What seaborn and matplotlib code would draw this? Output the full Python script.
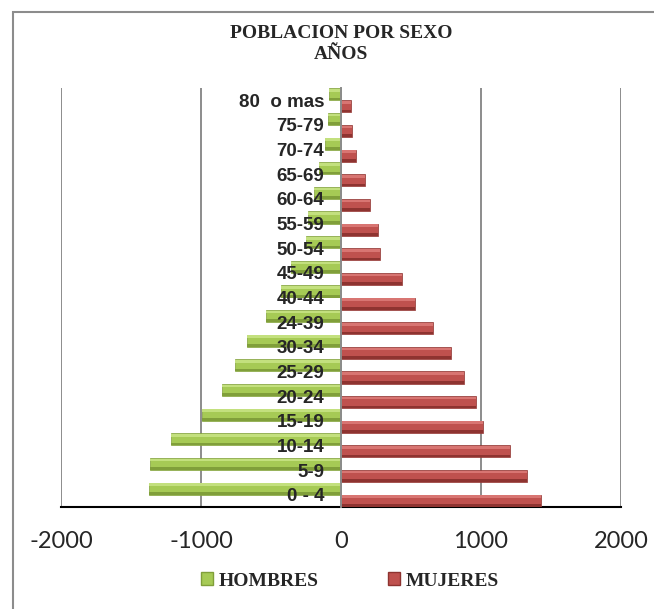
import pandas as pd
import matplotlib.pyplot as plt
import matplotlib.patches as mpatches
import seaborn as sns
from matplotlib.ticker import FixedLocator

sns.set_style("white")
plt.rcParams['font.family'] = ['Liberation Sans', 'DejaVu Sans']

# datos (de arriba hacia abajo)
grupos = ["80  o mas", "75-79", "70-74", "65-69", "60-64", "55-59", "50-54", "45-49",
          "40-44", "24-39", "30-34", "25-29", "20-24", "15-19", "10-14", "5-9", "0 - 4"]
hombres = [-85, -90, -115, -155, -195, -235, -250, -355, -430, -535, -670, -755,
           -850, -990, -1215, -1365, -1370]
mujeres = [70, 80, 110, 170, 205, 265, 275, 435, 525, 655, 785, 875,
           965, 1015, 1210, 1325, 1425]
series = ["HOMBRES", "MUJERES"]
xticks = [-2000, -1000, 0, 1000, 2000]

colores = {"HOMBRES": "#a6ca55", "MUJERES": "#bf514e"}
claros = {"HOMBRES": "#c3e07e", "MUJERES": "#d87572"}
oscuros = {"HOMBRES": "#809f3a", "MUJERES": "#8e3330"}

df = pd.DataFrame({
    "grupo": grupos * 2,
    "sexo": ["HOMBRES"] * len(grupos) + ["MUJERES"] * len(grupos),
    "valor": hombres + mujeres,
})

fig = plt.figure(figsize=(6.54, 6.09), dpi=100)
ax = fig.add_axes([61 / 654, 102 / 609, 560 / 654, 419 / 609])

sns.barplot(data=df, x="valor", y="grupo", hue="sexo", order=grupos,
            hue_order=series, palette=colores, orient="h", width=0.98,
            legend=False, saturation=1, ax=ax, zorder=3)

# efecto biselado: franja clara arriba, oscura abajo
n = len(grupos)
for i, p in enumerate(list(ax.patches)):
    s = series[i // n]
    x, y, w, h = p.get_x(), p.get_y(), p.get_width(), p.get_height()
    p.set_edgecolor(oscuros[s])
    p.set_linewidth(0.5)
    ax.add_patch(mpatches.Rectangle((x, y + h * 0.06), w, h * 0.22, facecolor=claros[s],
                                    edgecolor="none", zorder=4))
    ax.add_patch(mpatches.Rectangle((x, y + h * 0.78), w, h * 0.22, facecolor=oscuros[s],
                                    edgecolor="none", zorder=4))

ax.set_xlim(-2000, 2000)
ax.set_xticks(xticks)
ax.set_xticklabels([str(v) for v in xticks], family=["Lato", "DejaVu Sans"], fontsize=17)
ax.set_xlabel("")
ax.set_ylabel("")
ax.xaxis.grid(True, color="#8c8c8c", linewidth=1.4)
ax.set_axisbelow(True)
ax.yaxis.set_zorder(6)

for s in ["top", "right"]:
    ax.spines[s].set_visible(False)
ax.spines["bottom"].set_color("black")
ax.spines["bottom"].set_linewidth(1.5)
ax.spines["left"].set_position(("data", 0))
ax.spines["left"].set_color("#8c8c8c")
ax.spines["left"].set_linewidth(1.4)
ax.spines["left"].set_zorder(5)

ax.tick_params(axis="x", direction="out", length=7, width=1.5, color="black", pad=10)
ax.tick_params(axis="y", which="major", length=0, pad=12)
ax.yaxis.set_minor_locator(FixedLocator([k + 0.5 for k in range(-1, n)]))
ax.tick_params(axis="y", which="minor", length=5, width=1.2, color="#8c8c8c", direction="inout")
for t in ax.get_yticklabels():
    t.set_fontweight("bold")
    t.set_fontsize(13.5)

fig.text(341 / 654, 1 - 44 / 609, "POBLACION POR SEXO\nAÑOS", ha="center", va="center",
         family=["Liberation Serif", "DejaVu Serif"], fontweight="bold", fontsize=14,
         linespacing=1.25)

handles = [mpatches.Patch(facecolor=colores[s], edgecolor=oscuros[s]) for s in series]
fig.legend(handles, series, loc="center", bbox_to_anchor=(350 / 654, 1 - 581 / 609),
           ncol=2, frameon=False, handlelength=0.6, handleheight=0.6,
           handletextpad=0.3, columnspacing=3.6,
           prop={"family": ["Liberation Serif", "DejaVu Serif"], "weight": "bold", "size": 14})

# marco del grafico
fig.patches.append(mpatches.Rectangle((13 / 654, -0.1), 1.2, 1.1 - 12 / 609,
                                      transform=fig.transFigure, fill=False,
                                      edgecolor="#8c8c8c", linewidth=1.5))

fig.savefig("out.png", dpi=100)
